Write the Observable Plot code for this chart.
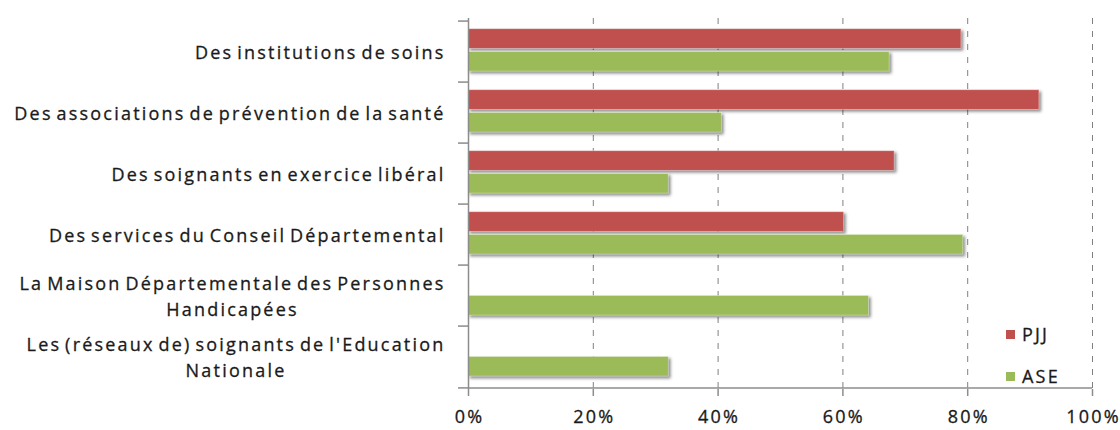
<!DOCTYPE html>
<html>
<head>
<meta charset="utf-8">
<script src="https://cdn.jsdelivr.net/npm/d3@7"></script>
<script src="https://cdn.jsdelivr.net/npm/@observablehq/plot@0.6"></script>
<style>
  html, body { margin: 0; padding: 0; background: #fff; }
  #wrap { position: relative; width: 1120px; height: 430px; font-family: "Open Sans", sans-serif; }
  #wrap svg { display: block; }
  #wrap svg text { letter-spacing: 2.2px; word-spacing: -3px; font-weight: 400; stroke: #1a1a1a; stroke-width: 0.3px; }
  .bars-pjj, .bars-ase { filter: drop-shadow(2px 2px 1.5px rgba(0,0,0,0.45)); }
  #legend { position: absolute; left: 1006px; top: 321px; font-size: 18px; color: #1a1a1a; letter-spacing: 2.2px; -webkit-text-stroke: 0.3px #1a1a1a; }
  #legend .item { display: flex; align-items: center; height: 26px; margin-bottom: 16px; }
  #legend .sw { width: 9px; height: 9px; margin-right: 7px; }
</style>
</head>
<body>
<div id="wrap"><div id="legend"></div></div>
<script>
const categories = [
  "Des institutions de soins",
  "Des associations de prévention de la santé",
  "Des soignants en exercice libéral",
  "Des services du Conseil Départemental",
  "La Maison Départementale des Personnes\nHandicapées",
  "Les (réseaux de) soignants de l'Education\nNationale"
];
const seriesNames = ["PJJ", "ASE"];
const seriesColors = ["#C0504D", "#9BBB59"];
const pjjValues = [0.79, 0.915, 0.683, 0.602, null, null];
const aseValues = [0.675, 0.406, 0.321, 0.793, 0.642, 0.321];
const xTicks = [0, 0.2, 0.4, 0.6, 0.8, 1.0];
const gridTicks = [0.2, 0.4, 0.6, 0.8, 1.0];

const pjjData = categories.map((c, i) => ({category: c, value: pjjValues[i]})).filter(d => d.value != null);
const aseData = categories.map((c, i) => ({category: c, value: aseValues[i]})).filter(d => d.value != null);

const width = 1120, height = 430;
const marginTop = 18, marginBottom = 41, marginLeft = 468, marginRight = 28;
const band = (height - marginTop - marginBottom) / categories.length;

const chart = Plot.plot({
  width, height, marginTop, marginBottom, marginLeft, marginRight,
  style: {fontFamily: "Open Sans, sans-serif", fontSize: "18px", color: "#1a1a1a", background: "#fff"},
  x: {domain: [0, 1], label: null},
  y: {domain: categories, padding: 0, label: null},
  marks: [
    Plot.gridX({ticks: gridTicks, stroke: "#808080", strokeOpacity: 1, strokeDasharray: "6,7", strokeWidth: 1}),
    Plot.barX(pjjData, {x: "value", y: "category", fill: seriesColors[0], insetTop: 7.7, insetBottom: band - 7.7 - 20.5, stroke: "#fff", strokeOpacity: 0.5, strokeWidth: 0.8, className: "bars-pjj"}),
    Plot.barX(aseData, {x: "value", y: "category", fill: seriesColors[1], insetTop: 30.4, insetBottom: band - 30.4 - 20.6, stroke: "#fff", strokeOpacity: 0.5, strokeWidth: 0.8, className: "bars-ase"}),
    Plot.ruleX([0], {stroke: "#8c8c8c", strokeWidth: 1.5}),
    Plot.ruleY([categories[categories.length - 1]], {dy: band / 2, stroke: "#8c8c8c", strokeWidth: 1.5}),
    Plot.axisY({tickSize: 10, dy: -band / 2, text: null, stroke: "#8c8c8c", strokeWidth: 1.5}),
    Plot.axisY({ticks: [categories[categories.length - 1]], tickSize: 10, dy: band / 2, text: null, stroke: "#8c8c8c", strokeWidth: 1.5}),
    Plot.axisY({tickSize: 0, tickPadding: 23, dy: -1.5, fontSize: 18, lineHeight: 1.45, fill: "#1a1a1a", label: null}),
    Plot.axisX({ticks: xTicks, tickSize: 7, text: null, stroke: "#8c8c8c", strokeWidth: 1.5}),
    Plot.axisX({ticks: xTicks, tickSize: 0, tickPadding: 21, dx: 1, tickFormat: d3.format(".0%"), fontSize: 18, fill: "#1a1a1a", label: null})
  ]
});

const wrap = document.getElementById("wrap");
wrap.insertBefore(chart, wrap.firstChild);

// center the lines of multi-line labels within their right-aligned block
chart.querySelectorAll('g[aria-label="y-axis tick label"] text').forEach(t => {
  const spans = t.querySelectorAll("tspan");
  if (spans.length > 1) {
    const w = t.getBBox().width;
    t.setAttribute("text-anchor", "middle");
    spans.forEach(s => s.setAttribute("x", -w / 2));
  }
});

const legend = document.getElementById("legend");
seriesNames.forEach((name, i) => {
  const item = document.createElement("div");
  item.className = "item";
  const sw = document.createElement("span");
  sw.className = "sw";
  sw.style.background = seriesColors[i];
  const lab = document.createElement("span");
  lab.textContent = name;
  item.appendChild(sw);
  item.appendChild(lab);
  legend.appendChild(item);
});
</script>
</body>
</html>
